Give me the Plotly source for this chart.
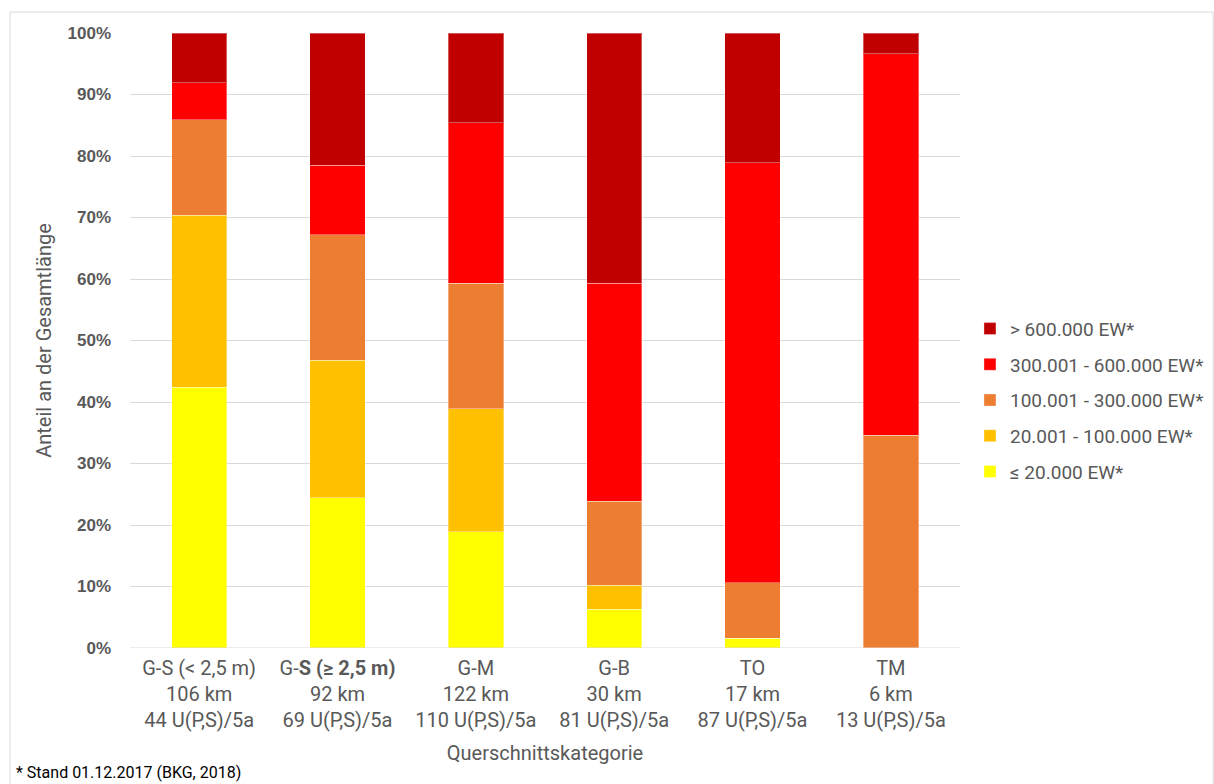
import plotly.graph_objects as go

# Cross-section categories (multi-line tick labels)
categories = [
    "G-S (< 2,5 m)<br>106 km<br>44 U(P,S)/5a",
    "G-<b>S (≥ 2,5 m)</b><br>92 km<br>69 U(P,S)/5a",
    "G-M<br>122 km<br>110 U(P,S)/5a",
    "G-B<br>30 km<br>81 U(P,S)/5a",
    "TO<br>17 km<br>87 U(P,S)/5a",
    "TM<br>6 km<br>13 U(P,S)/5a",
]

# Share of total length per population-equivalent class (%)
ew_le_20k = [42.4, 24.4, 18.9, 6.3, 1.6, 0.0]
ew_20k_100k = [28.0, 22.4, 20.0, 3.9, 0.0, 0.0]
ew_100k_300k = [15.5, 20.4, 20.4, 13.7, 9.0, 34.6]
ew_300k_600k = [6.0, 11.3, 26.1, 35.4, 68.3, 62.0]
ew_gt_600k = [8.1, 21.5, 14.6, 40.7, 21.1, 3.4]

series_names = [
    "≤ 20.000 EW*",
    "20.001 - 100.000 EW*",
    "100.001 - 300.000 EW*",
    "300.001 - 600.000 EW*",
    "> 600.000 EW*",
]
series_values = [ew_le_20k, ew_20k_100k, ew_100k_300k, ew_300k_600k, ew_gt_600k]
series_colors = ["#FFFF00", "#FFC000", "#ED7D31", "#FF0000", "#C00000"]

y_ticks = [0, 10, 20, 30, 40, 50, 60, 70, 80, 90, 100]

TEXT_FONT = "Roboto, Liberation Sans, sans-serif"
GREY = "#595959"

fig = go.Figure()
n_series = len(series_names)
for i, (name, vals, col) in enumerate(zip(series_names, series_values, series_colors)):
    fig.add_trace(go.Bar(
        x=categories,
        y=[v / 100 for v in vals],
        name=name,
        legendgroup=name,
        legendrank=n_series - i,  # highest class listed first
        marker=dict(color=col, line=dict(color="rgba(255,255,255,0.35)", width=1)),
    ))

fig.update_layout(
    width=1214,
    height=784,
    margin=dict(l=130, r=254, t=33, b=136, autoexpand=False),
    barmode="stack",
    bargap=0.6,
    plot_bgcolor="white",
    paper_bgcolor="white",
    font=dict(family=TEXT_FONT, color=GREY, size=20),
    legend=dict(
        traceorder="grouped",
        tracegroupgap=8,
        x=1.012,
        xanchor="left",
        y=0.55,
        yanchor="top",
        font=dict(family=TEXT_FONT, size=19, color=GREY),
        itemwidth=30,
    ),
    xaxis=dict(
        showgrid=False,
        showline=False,
        ticks="",
        ticklabelstandoff=6,
        tickfont=dict(family=TEXT_FONT, size=20, color=GREY),
        title=dict(text="Querschnittskategorie", standoff=14,
                   font=dict(family=TEXT_FONT, size=20, color=GREY)),
    ),
    yaxis=dict(
        range=[0, 1],
        tickvals=[t / 100 for t in y_ticks],
        ticktext=[f"{t}%" for t in y_ticks],
        showgrid=True,
        gridcolor="#d9d9d9",
        gridwidth=1,
        zeroline=False,
        showline=False,
        ticks="",
        ticklabelstandoff=18,
        tickfont=dict(family="Liberation Sans, Arial, sans-serif", size=17, color=GREY, weight="bold"),
        title=dict(text="Anteil an der Gesamtlänge", standoff=10,
                   font=dict(family=TEXT_FONT, size=20, color=GREY)),
    ),
)

# Bottom baseline (0%) gridline drawn above the bars
fig.add_shape(type="line", xref="paper", yref="y", x0=0, x1=1, y0=0, y1=0,
              line=dict(color="#d9d9d9", width=1))

# Outer chart border
fig.add_shape(type="rect", xref="paper", yref="paper",
              x0=-0.1446, x1=1.305, y0=-0.3, y1=1.034,
              line=dict(color="#d9d9d9", width=1), layer="below")

# Footnote
fig.add_annotation(text="* Stand 01.12.2017 (BKG, 2018)", xref="paper", yref="paper",
                   x=-0.14, y=-0.203, xanchor="left", yanchor="middle", showarrow=False,
                   font=dict(family=TEXT_FONT, size=16, color="#000000", weight="normal"))

fig.write_html("out.html")
